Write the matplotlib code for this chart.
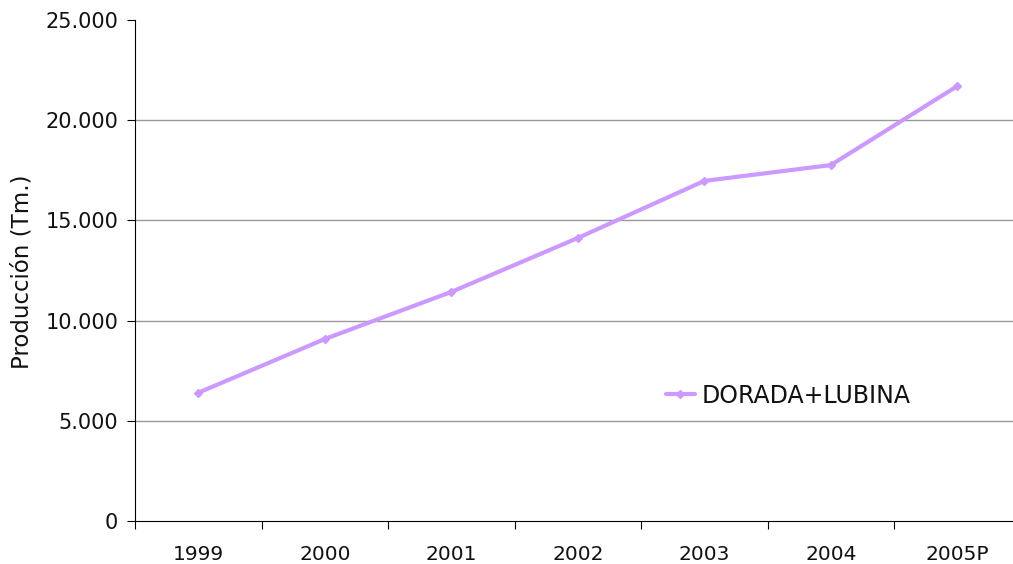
import matplotlib.pyplot as plt
import numpy as np

years = ["1999", "2000", "2001", "2002", "2003", "2004", "2005P"]
produccion = [6400, 9080, 11430, 14120, 16970, 17760, 21700]
yticks = [0, 5000, 10000, 15000, 20000, 25000]
ytick_labels = ["0", "5.000", "10.000", "15.000", "20.000", "25.000"]

plt.rcParams['font.family'] = ['DejaVu Sans']
fig = plt.figure(figsize=(10.13, 5.64), dpi=100)
ax = fig.add_axes([135/1013, 1 - 521/564, (1020.5 - 135)/1013, (521 - 20)/564])

x = np.arange(len(years))
ax.plot(x, produccion, color='#CC99FF', lw=3, marker='D', ms=4.5,
        label='DORADA+LUBINA', solid_capstyle='round')

ax.set_xlim(-0.5, len(years) - 0.5)
ax.set_ylim(0, 25000)
ax.set_yticks(yticks)
ax.set_yticklabels(ytick_labels, fontsize=15, color='#111111')
ax.set_xticks(np.arange(-0.5, len(years), 1))
ax.set_xticklabels([])
ax.set_xticks(x, minor=True)
ax.set_xticklabels(years, minor=True, fontsize=14.5, color='#111111')
ax.tick_params(axis='x', which='minor', length=0, pad=17)
ax.tick_params(axis='x', which='major', length=6, direction='out', color='black')
ax.tick_params(axis='y', length=6, direction='out', pad=6)

for v in yticks[1:-1]:
    ax.axhline(v, color='#999999', lw=1, zorder=0)

for s in ['top', 'right']:
    ax.spines[s].set_visible(False)
ax.spines['left'].set_color('black')
ax.spines['bottom'].set_color('black')

ax.set_ylabel('Producción (Tm.)', fontsize=16.5, color='#111111', va='center')
ax.yaxis.set_label_coords(-113/885.5, 0.497)

ax.legend(loc='center left', bbox_to_anchor=(0.576, 0.25), frameon=False,
          fontsize=17, handlelength=1.2, handletextpad=0.3,
          labelcolor='#111111')

fig.savefig('out.png', dpi=100)
